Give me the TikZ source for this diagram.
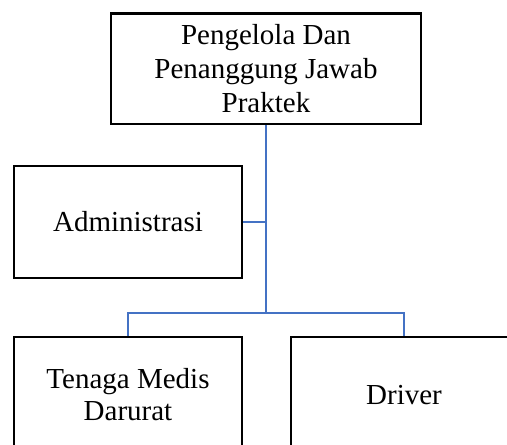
\documentclass[tikz,border=0pt]{standalone}
\usepackage{fontspec}
\setmainfont{Liberation Serif}
\definecolor{linkblue}{RGB}{68,114,196}
\begin{document}
\begin{tikzpicture}[x=0.75pt,y=-0.75pt,
  orgbox/.style={draw=black,line width=2.1pt,fill=white,rectangle,inner sep=0pt,
    align=center,font=\fontsize{21.75}{25.5}\selectfont},
  link/.style={draw=linkblue,line width=1.2pt}]
\useasboundingbox (0,0) rectangle (507,445);
\clip (0,0) rectangle (507,445);
\node[orgbox,minimum width=310*0.75pt,minimum height=110.5*0.75pt] (top) at (266,68.75)
  {Pengelola Dan\\Penanggung Jawab\\Praktek};
\node[orgbox,minimum width=228*0.75pt,minimum height=112*0.75pt] (admin) at (128,222)
  {Administrasi};
\node[orgbox,minimum width=228*0.75pt,minimum height=116*0.75pt,
  font=\fontsize{21.75}{24}\selectfont] (tm) at (128,395)
  {Tenaga Medis\\Darurat};
\node[orgbox,minimum width=226*0.75pt,minimum height=116*0.75pt] (dr) at (404,395)
  {Driver};
\coordinate (j) at (266,313);
\draw[link] (top.south) -- (j);
\draw[link] (admin.east) -- (admin.east -| top.south);
\draw[link] (tm.north) |- (j) -| (dr.north);
\end{tikzpicture}
\end{document}
